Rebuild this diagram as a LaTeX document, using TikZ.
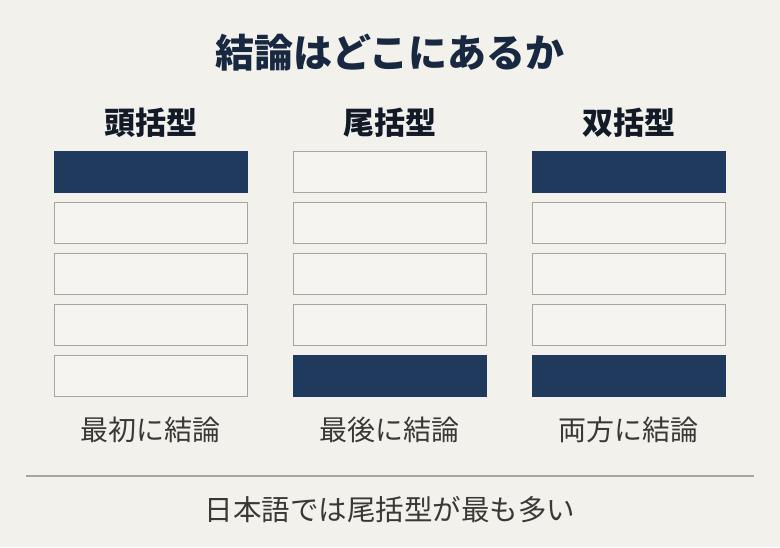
\documentclass[tikz,border=0pt]{standalone}
\usepackage{fontspec}
\setmainfont{Noto Sans CJK JP}
\usepackage{xcolor}
\usetikzlibrary{positioning}
\definecolor{fond}{HTML}{F3F1EC}
\definecolor{papier}{HTML}{F6F4F0}
\definecolor{bord}{HTML}{A8A49E}
\definecolor{marine}{HTML}{1F3A5C}
\definecolor{encre}{HTML}{172840}
\definecolor{noir}{HTML}{121A28}
\definecolor{gris}{HTML}{3A3735}
\tikzstyle{bloc}=[rectangle, draw=bord, fill=papier, line width=1pt,
  minimum width=193pt, minimum height=41pt, inner sep=0pt, outer sep=0pt]
\tikzstyle{plein}=[bloc, draw=marine, fill=marine]
\tikzstyle{titre}=[font=\fontsize{39}{42}\selectfont\bfseries, text=encre, inner sep=0pt]
\tikzstyle{entete}=[font=\fontsize{31}{34}\selectfont\bfseries, text=noir, inner sep=0pt]
\tikzstyle{legende}=[font=\fontsize{28}{31}\selectfont, text=gris, inner sep=0pt]
\tikzstyle{filet}=[draw=bord, line width=1.2pt]

\begin{document}
\begin{tikzpicture}[x=1pt, y=-1pt, node distance=10pt]
    \fill[fond] (0,0) rectangle (780,547);
    \useasboundingbox (0,0) rectangle (780,547);
    \node (titre) [titre] at (390,52.5) {結論はどこにあるか};
    % 頭括型
    \node (a1) [plein] at (150.5,171.5) {};
    \node (a2) [bloc, below=of a1] {};
    \node (a3) [bloc, below=of a2] {};
    \node (a4) [bloc, below=of a3] {};
    \node (a5) [bloc, below=of a4] {};
    \node (ha) [entete, above=13pt of a1] {頭括型};
    \node (la) [legende, below=21pt of a5] {最初に結論};
    % 尾括型
    \node (b1) [bloc] at (389.5,171.5) {};
    \node (b2) [bloc, below=of b1] {};
    \node (b3) [bloc, below=of b2] {};
    \node (b4) [bloc, below=of b3] {};
    \node (b5) [plein, below=of b4] {};
    \node (hb) [entete, above=13pt of b1] {尾括型};
    \node (lb) [legende, below=21pt of b5] {最後に結論};
    % 双括型
    \node (c1) [plein] at (628.5,171.5) {};
    \node (c2) [bloc, below=of c1] {};
    \node (c3) [bloc, below=of c2] {};
    \node (c4) [bloc, below=of c3] {};
    \node (c5) [plein, below=of c4] {};
    \node (hc) [entete, above=13pt of c1] {双括型};
    \node (lc) [legende, below=21pt of c5] {両方に結論};
    % conclusion
    \coordinate (g) at (26,476);
    \coordinate (d) at (754,476);
    \draw[filet] (g) -- (d);
    \node (bilan) [legende, font=\fontsize{28.5}{31}\selectfont] at (390,510) {日本語では尾括型が最も多い};
\end{tikzpicture}
\end{document}
